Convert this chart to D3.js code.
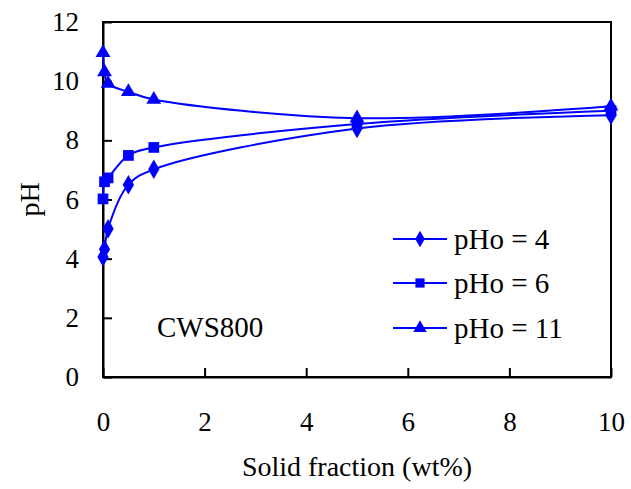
<!DOCTYPE html>
<html>
<head>
<meta charset="utf-8">
<script src="https://cdn.jsdelivr.net/npm/d3@7"></script>
<style>
  html, body { margin: 0; padding: 0; background: #fff; }
  svg { display: block; }
  svg text { font-family: "Liberation Serif", "Times New Roman", serif !important; fill: #000; }
</style>
</head>
<body>
<svg id="chart" width="631" height="489"></svg>
<script>
// ---- data ----
const solidFraction = [0, 0.03, 0.1, 0.5, 1, 5, 10];
const pH_pHo4  = [4.06, 4.32, 5.01, 6.50, 7.02, 8.40, 8.85];
const pH_pHo6  = [6.02, 6.60, 6.73, 7.49, 7.76, 8.55, 9.00];
const pH_pHo11 = [10.96, 10.31, 9.92, 9.64, 9.38, 8.75, 9.15];
const seriesNames = ["pHo = 4", "pHo = 6", "pHo = 11"];
const xTicks = [0, 2, 4, 6, 8, 10];
const yTicks = [0, 2, 4, 6, 8, 10, 12];

const seriesValues = [pH_pHo4, pH_pHo6, pH_pHo11];
const symbols = [d3.symbolDiamond, d3.symbolSquare, d3.symbolTriangle];
const symSizes = [110, 115, 95];
const legSizes = [80, 85, 80];
const color = "#0000ff";
const serif = "Liberation Serif, Times New Roman, serif";

const svg = d3.select("#chart");
const L = 103, R = 611, T = 22, B = 377;

const x = d3.scaleLinear().domain([0, 10]).range([L, R]);
const y = d3.scaleLinear().domain([0, 12]).range([B, T]);

// frame
svg.append("rect").attr("x", L).attr("y", T).attr("width", R - L).attr("height", B - T)
  .attr("fill", "none").attr("stroke", "#000").attr("stroke-width", 2);

// axes with inward ticks
const xAxis = svg.append("g").attr("transform", `translate(0,${B})`)
  .call(d3.axisBottom(x).tickValues(xTicks).tickSizeInner(-9).tickSizeOuter(0).tickPadding(35).tickFormat(d3.format("d")));
const yAxis = svg.append("g").attr("transform", `translate(${L},0)`)
  .call(d3.axisLeft(y).tickValues(yTicks).tickSizeInner(-9).tickSizeOuter(0).tickPadding(24).tickFormat(d3.format("d")));
[xAxis, yAxis].forEach(g => {
  g.attr("font-family", serif).attr("font-size", 27);
  g.select(".domain").attr("stroke", "#000").attr("stroke-width", 2);
  g.selectAll(".tick line").attr("stroke", "#000").attr("stroke-width", 2);
  g.selectAll(".tick text").attr("font-family", serif).attr("font-size", 27).attr("fill", "#000");
});
xAxis.selectAll(".tick text").attr("dy", "0.71em");

// axis titles
svg.append("text").attr("x", (L + R) / 2).attr("y", 476).attr("text-anchor", "middle")
  .attr("font-size", 28).text("Solid fraction (wt%)");
svg.append("text").attr("transform", `translate(39,${(T + B) / 2}) rotate(-90)`)
  .attr("text-anchor", "middle").attr("font-size", 28).text("pH");

// lines
const line = d3.line().x(d => x(d[0])).y(d => y(d[1])).curve(d3.curveCatmullRom.alpha(0.5));
seriesValues.forEach((vals, i) => {
  const pts = solidFraction.map((s, j) => [s, vals[j]]);
  svg.append("path").datum(pts).attr("d", line)
    .attr("fill", "none").attr("stroke", color).attr("stroke-width", 2);
  svg.append("g").selectAll("path").data(pts).join("path")
    .attr("transform", d => `translate(${x(d[0])},${y(d[1])})`)
    .attr("d", d3.symbol().type(symbols[i]).size(symSizes[i]))
    .attr("fill", color);
});

// legend
const legY = [239, 283, 328];
seriesNames.forEach((name, i) => {
  const g = svg.append("g").attr("transform", `translate(0,${legY[i]})`);
  g.append("line").attr("x1", 393).attr("x2", 447).attr("y1", 0).attr("y2", 0)
    .attr("stroke", color).attr("stroke-width", 2);
  g.append("path").attr("transform", "translate(420,0)")
    .attr("d", d3.symbol().type(symbols[i]).size(legSizes[i])).attr("fill", color);
  g.append("text").attr("x", 454).attr("y", 0).attr("dy", "0.35em")
    .attr("font-size", 29).text(name);
});

// annotation
svg.append("text").attr("x", 157).attr("y", 337).attr("font-size", 29).text("CWS800");
</script>
</body>
</html>
